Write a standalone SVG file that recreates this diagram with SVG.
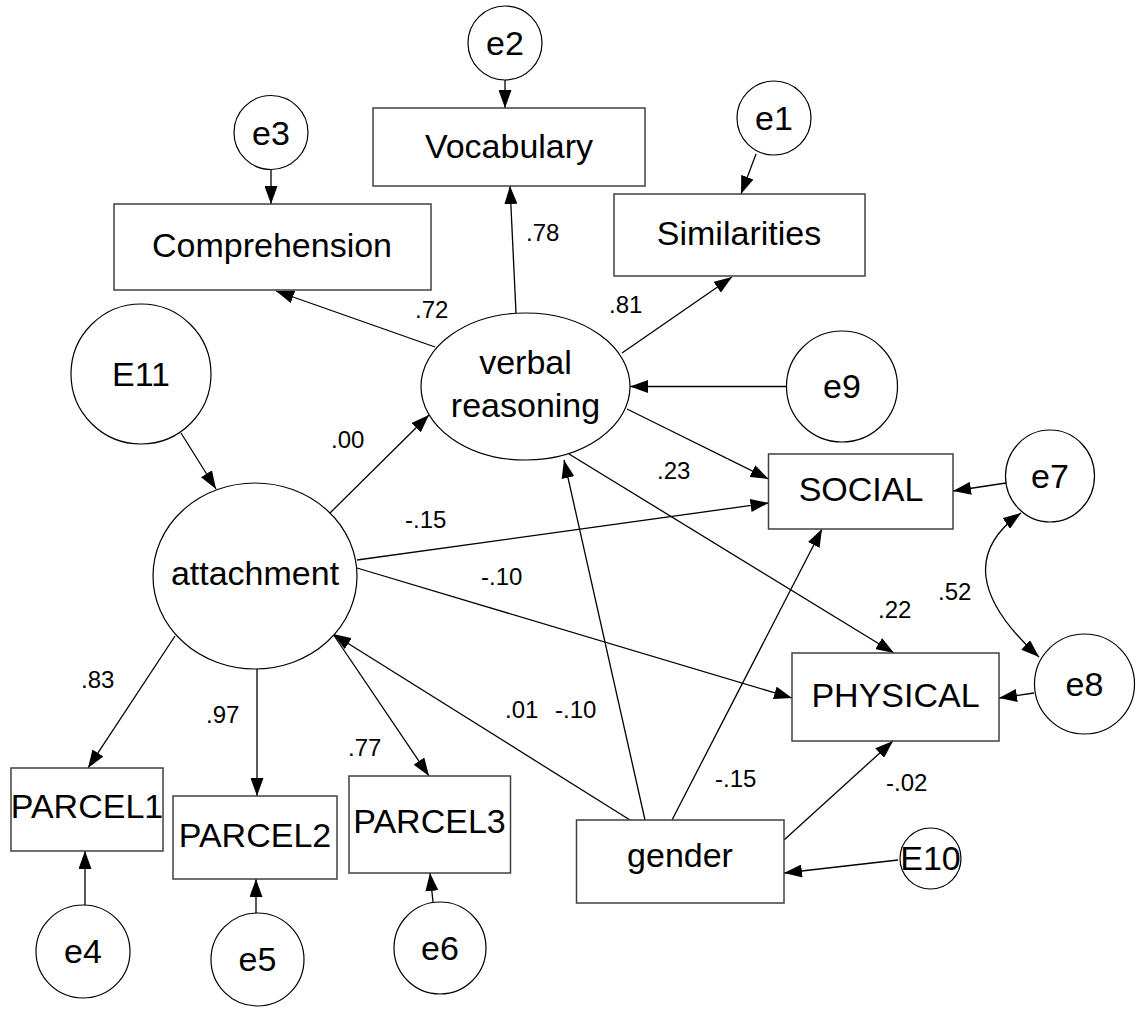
<svg xmlns="http://www.w3.org/2000/svg" width="1136" height="1015" viewBox="0 0 1136 1015">
<style>
.n{fill:#fff;stroke:#000;stroke-width:1.2}
.r{fill:#fff;stroke:#404040;stroke-width:1.5}
.t{font-family:"Liberation Sans",Arial,sans-serif;font-size:34px;fill:#000;text-anchor:middle}
.l{font-family:"Liberation Sans",Arial,sans-serif;font-size:24px;fill:#000}
.c path{fill:none;stroke:#000;stroke-width:1.3;marker-end:url(#a)}
</style>
<defs>
<marker id="a" viewBox="0 0 18 13" refX="18" refY="6.5" markerWidth="18" markerHeight="13" markerUnits="userSpaceOnUse" orient="auto-start-reverse"><path d="M0,0 L18,6.5 L0,13 z" fill="#000"/></marker>
</defs>
<rect width="1136" height="1015" fill="#fff"/>
<g id="connectors" class="c">
<path d="M505,80 L505,108"/>
<path d="M271,170 L271,204"/>
<path d="M756,154 L741,194"/>
<path d="M516,313 L510,186"/>
<path d="M435,347 L276,291"/>
<path d="M622,353 L732,277"/>
<path d="M786.5,386.5 L630,386.5"/>
<path d="M627,409 L768.5,479"/>
<path d="M569,454 L894,653"/>
<path d="M181,433 L216,489"/>
<path d="M330,513 L429,415"/>
<path d="M357,560 L768.5,503"/>
<path d="M357,568 L792,698"/>
<path d="M175,636 L88,768"/>
<path d="M257,669 L257,796"/>
<path d="M333,634 L429,776"/>
<path d="M85,905 L85,851"/>
<path d="M256,913 L256,879"/>
<path d="M433,902 L430,873"/>
<path d="M630,820 L333,634"/>
<path d="M645,820 L564,460"/>
<path d="M672,820 L822,529"/>
<path d="M784,840 L893,741"/>
<path d="M898,860 L784,873"/>
<path d="M1006,483 L953,491"/>
<path d="M1034,693 L999,698"/>
<path d="M1021,513 Q942,569 1039,657" style="marker-start:url(#a)"/>
</g>
<g id="e2"><circle class="n" cx="505" cy="43" r="37"/><text class="t" x="505" y="55">e2</text></g>
<g id="Vocabulary"><rect class="r" x="373" y="108" width="272" height="78"/><text class="t" x="509" y="158">Vocabulary</text></g>
<g id="e3"><circle class="n" cx="271" cy="132.5" r="37"/><text class="t" x="271" y="145">e3</text></g>
<g id="Comprehension"><rect class="r" x="114" y="204" width="317" height="86"/><text class="t" x="272" y="257">Comprehension</text></g>
<g id="e1"><circle class="n" cx="774" cy="118" r="37"/><text class="t" x="774" y="130">e1</text></g>
<g id="Similarities"><rect class="r" x="614" y="194" width="251" height="82"/><text class="t" x="739" y="245">Similarities</text></g>
<g id="verbal_reasoning"><ellipse class="n" cx="525.5" cy="386.5" rx="104.5" ry="73.5"/><text class="t" x="525.5" y="374">verbal</text><text class="t" x="525.5" y="417">reasoning</text></g>
<g id="e9"><circle class="n" cx="842" cy="386.5" r="55.5"/><text class="t" x="842" y="398">e9</text></g>
<g id="E11"><circle class="n" cx="141" cy="374" r="70"/><text class="t" x="141" y="386">E11</text></g>
<g id="attachment"><ellipse class="n" cx="255" cy="576" rx="102" ry="93"/><text class="t" x="255" y="585">attachment</text></g>
<g id="SOCIAL"><rect class="r" x="768.5" y="454" width="184.5" height="75"/><text class="t" x="861" y="501">SOCIAL</text></g>
<g id="e7"><ellipse class="n" cx="1050" cy="476" rx="44.5" ry="46"/><text class="t" x="1050" y="488">e7</text></g>
<g id="PHYSICAL"><rect class="r" x="792" y="653" width="207" height="88"/><text class="t" x="895.5" y="707">PHYSICAL</text></g>
<g id="e8"><circle class="n" cx="1084.5" cy="684" r="50"/><text class="t" x="1084.5" y="696">e8</text></g>
<g id="PARCEL1"><rect class="r" x="11" y="768" width="152" height="83"/><text class="t" x="87" y="818">PARCEL1</text></g>
<g id="PARCEL2"><rect class="r" x="173" y="796" width="164" height="83"/><text class="t" x="255" y="847">PARCEL2</text></g>
<g id="PARCEL3"><rect class="r" x="349" y="776" width="161.5" height="97"/><text class="t" x="429.5" y="833">PARCEL3</text></g>
<g id="gender"><rect class="r" x="576.5" y="820" width="207.5" height="83"/><text class="t" x="680" y="867">gender</text></g>
<g id="E10"><circle class="n" cx="930.5" cy="858.5" r="30.5"/><text class="t" x="930.5" y="870">E10</text></g>
<g id="e4"><ellipse class="n" cx="83" cy="951.5" rx="47" ry="46.5"/><text class="t" x="83" y="963">e4</text></g>
<g id="e5"><circle class="n" cx="257.5" cy="959.5" r="46.5"/><text class="t" x="257.5" y="971">e5</text></g>
<g id="e6"><circle class="n" cx="440" cy="948" r="46"/><text class="t" x="440" y="960">e6</text></g>
<g id="labels">
<text class="l" x="526" y="241">.78</text>
<text class="l" x="415" y="318">.72</text>
<text class="l" x="609" y="313">.81</text>
<text class="l" x="331" y="448">.00</text>
<text class="l" x="405" y="528">-.15</text>
<text class="l" x="481" y="585">-.10</text>
<text class="l" x="657" y="479">.23</text>
<text class="l" x="878" y="618">.22</text>
<text class="l" x="938" y="600">.52</text>
<text class="l" x="81" y="688">.83</text>
<text class="l" x="206" y="723">.97</text>
<text class="l" x="348" y="756">.77</text>
<text class="l" x="505" y="718">.01</text>
<text class="l" x="555" y="718">-.10</text>
<text class="l" x="715" y="787">-.15</text>
<text class="l" x="886" y="791">-.02</text>
</g>
</svg>
